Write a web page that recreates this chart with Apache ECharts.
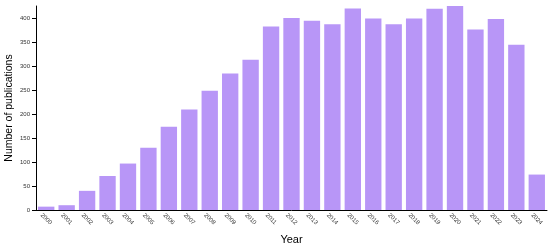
<!DOCTYPE html>
<html><head><meta charset="utf-8">
<script src="https://cdn.jsdelivr.net/npm/echarts@6/dist/echarts.min.js"></script>
<style>html,body{margin:0;padding:0;background:#fff}#c{width:550px;height:248px}</style>
</head><body><div id="c"></div>
<script>
const years = ['2000','2001','2002','2003','2004','2005','2006','2007','2008','2009','2010','2011','2012','2013','2014','2015','2016','2017','2018','2019','2020','2021','2022','2023','2024'];
const publications = [7,10,40,71,97,130,174,210,249,285,314,383,401,395,388,421,400,388,400,420,426,377,399,345,74];
const yTicks = [0,50,100,150,200,250,300,350,400];

const chart = echarts.init(document.getElementById('c'), null, {renderer:'canvas'});
chart.setOption({
  animation:false,
  textStyle:{fontFamily:'Liberation Sans, Arial, sans-serif'},
  grid:{left:36,right:3,top:6,bottom:38,containLabel:false,outerBoundsMode:'none'},
  xAxis:{
    type:'category', data:years,
    name:'Year', nameLocation:'middle', nameGap:24, nameMoveOverlap:false,
    nameTextStyle:{fontSize:11,color:'#000'},
    axisLine:{lineStyle:{color:'#000',width:1}},
    axisTick:{alignWithLabel:true,length:4,lineStyle:{color:'#000'}},
    axisLabel:{rotate:-45,fontSize:6,color:'#333',margin:9,align:'center',verticalAlign:'middle',interval:0}
  },
  yAxis:{
    type:'value', min:0, max:426, interval:50,
    name:'Number of publications', nameLocation:'middle', nameGap:21, nameRotate:90, nameMoveOverlap:false,
    nameTextStyle:{fontSize:10.5,color:'#000'},
    axisLine:{show:true,lineStyle:{color:'#000',width:1}},
    axisTick:{show:true,length:4,lineStyle:{color:'#000'}},
    axisLabel:{fontSize:6,color:'#333',margin:6,showMaxLabel:false,
      formatter:v=>yTicks.includes(v)?String(v):''},
    splitLine:{show:false}
  },
  series:[{type:'bar',data:publications,barCategoryGap:'20%',itemStyle:{color:'#b896f7'}}]
});
</script></body></html>
